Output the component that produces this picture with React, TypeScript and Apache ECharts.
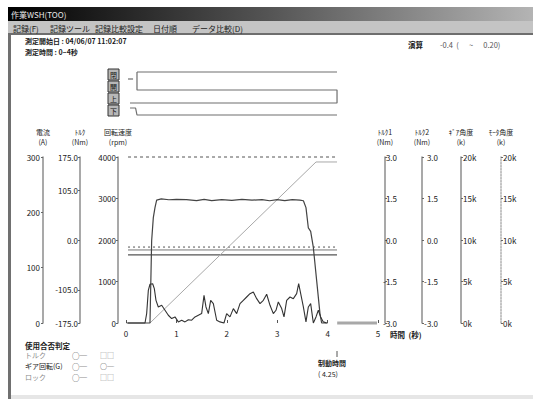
import React, { useEffect, useRef } from "react";
import * as echarts from "echarts";

const FONT = "'Noto Sans CJK JP', 'Noto Sans', sans-serif";

// Time axis (seconds)
const timeTicks = [0, 1, 2, 3, 4, 5];

// Rotational speed (rpm) over time
const speedTrace: [number, number][] = [
  [0.04, 0], [0.476, 0], [0.509, 1980], [0.542, 2540], [0.575, 2780], [0.608, 2960],
  [0.7, 2990], [0.85, 2970], [1.0, 2980], [1.2, 2975], [1.4, 2950], [1.55, 2980],
  [1.7, 2950], [1.9, 2975], [2.1, 2955], [2.3, 2980], [2.5, 2960], [2.7, 2975],
  [2.85, 2945], [3.0, 2975], [3.15, 2950], [3.3, 2975], [3.45, 2960], [3.52, 2945],
  [3.571, 2780], [3.618, 2290], [3.664, 2210], [3.717, 1820], [3.783, 1020],
  [3.849, 220], [3.882, 0], [4.0, 0],
];

// Motor current (A) over time
const currentTrace: [number, number][] = [
  [0.013, 0], [0.377, 0], [0.41, 17], [0.443, 59], [0.476, 70], [0.529, 71], [0.562, 62],
  [0.595, 41], [0.641, 29], [0.708, 32], [0.774, 23], [0.84, 14], [0.906, 8], [0.972, 11],
  [1.038, 2], [1.105, 5], [1.171, 2], [1.237, 6], [1.303, 5], [1.369, 11], [1.435, 14],
  [1.501, 17], [1.548, 50], [1.587, 29], [1.634, 17], [1.68, 41], [1.733, 35], [1.799, 5],
  [1.865, 2], [1.944, 0], [1.997, 17], [2.063, 11], [2.13, 26], [2.196, 17], [2.262, 35],
  [2.328, 41], [2.394, 47], [2.46, 53], [2.526, 56], [2.593, 44], [2.659, 35], [2.725, 41],
  [2.791, 52], [2.857, 32], [2.923, 17], [2.976, 23], [3.022, 38], [3.089, 26], [3.135, 11],
  [3.188, 41], [3.254, 47], [3.32, 44], [3.386, 53], [3.426, 71], [3.466, 53], [3.519, 29],
  [3.571, 2], [3.618, 29], [3.664, 35], [3.717, 0], [3.77, 11], [3.816, 23], [3.862, 11],
  [3.915, 2], [3.982, 0],
];

// Cumulative rotation (k) over time
const angleTrace: [number, number][] = [[0.476, 0], [3.77, 19.4], [4.187, 19.4]];

// Reference levels on the speed scale
const speedCeiling = 4000;
const speedLimitLevels = [1830, 1760, 1640];
const recordSpan = [0.04, 4.187];
const idleSpan = [4.19, 4.98];

// Axis tick values
const currentTicks = [0, 100, 200, 300];
const torqueTicks = [-175, -105, 0, 105, 175];
const speedTicks = [0, 1000, 2000, 3000, 4000];
const forceTicks = [-3, -1.5, 0, 1.5, 3];
const countTicks = [0, 5, 10, 15, 20];

// Relay / valve sequence (time, level)
const relayNames = ["閉", "開", "上", "下"];
const relayPaths: [number, number][][] = [
  [[0.04, 36], [0.14, 36]],
  [[0.218, 43], [4.187, 43]],
  [[0.218, 43], [0.218, 25], [4.187, 25], [4.187, 12], [0.079, 12]],
  [[0.08, 7], [0.19, 7], [0.218, 0], [4.187, 0]],
];

const menuItems = ["記録(F)", "記録ツール", "記録比較設定", "日付順", "データ比較(D)"];
const headerLines = ["測定開始日 : 04/06/07 11:02:07", "測定時間 : 0~4秒"];
const calcLabel = "演算";
const calcRange = "-0.4  (      ~      0.20)";
const judgeTitle = "使用合否判定";
const judgeRows = [
  { name: "トルク", first: "○─", second: "□□", strong: false },
  { name: "ギア回転(G)", first: "○─", second: "○─", strong: true },
  { name: "ロック", first: "○─", second: "□□", strong: false },
];
const stopTitle = "制動時間";
const stopValue = "( 4.25)";

function yAxisDef(opts: any) {
  const {
    position, offset, min, max, ticks, name, labelFmt, margin, align, lineType, lineColor,
  } = opts;
  return {
    type: "value",
    gridIndex: 0,
    position,
    offset,
    min,
    max,
    name,
    nameLocation: "end",
    nameGap: 10,
    nameTextStyle: { fontSize: 7, lineHeight: 10, color: "#222", fontFamily: FONT },
    axisLine: {
      show: true,
      onZero: false,
      lineStyle: { color: lineColor || "#8c8c8c", width: 1.5, type: lineType || "solid" },
    },
    axisTick: {
      show: true,
      length: 2,
      customValues: ticks,
      lineStyle: { color: "#666", width: 1 },
    },
    axisLabel: {
      show: true,
      customValues: ticks,
      margin,
      align,
      fontSize: 8,
      color: "#1a1a1a",
      fontFamily: FONT,
      formatter: labelFmt,
    },
    splitLine: { show: false },
  };
}

function lineSeries(data: [number, number][], yAxisIndex: number, style: any, xAxisIndex = 0) {
  return {
    type: "line",
    xAxisIndex,
    yAxisIndex,
    data,
    symbol: "none",
    silent: true,
    clip: false,
    lineStyle: style,
    z: 3,
  };
}

function text(x: number, y: number, t: string, extra: any = {}) {
  return {
    type: "text",
    x,
    y,
    silent: true,
    style: {
      text: t,
      fill: extra.fill || "#1a1a1a",
      fontSize: extra.fontSize || 8,
      fontWeight: extra.fontWeight || "normal",
      fontFamily: FONT,
      align: extra.align || "left",
      verticalAlign: "middle",
    },
    z: 10,
  };
}

export default function App() {
  const ref = useRef<HTMLDivElement>(null);

  useEffect(() => {
    if (!ref.current) return;
    const chart = echarts.init(ref.current, undefined, { renderer: "svg" });

    const graphic: any[] = [
      // window chrome
      {
        type: "rect",
        shape: { x: 8, y: 7, width: 525, height: 14 },
        style: {
          fill: new echarts.graphic.LinearGradient(0, 0, 1, 0, [
            { offset: 0, color: "#000000" },
            { offset: 0.5, color: "#555555" },
            { offset: 1, color: "#b4b4b4" },
          ]),
        },
        silent: true,
      },
      text(11, 14, "作業WSH(TOO)", { fill: "#e8e8e8", fontSize: 8 }),
      { type: "rect", shape: { x: 8, y: 21, width: 525, height: 13 }, style: { fill: "#c4c4c4" }, silent: true },
      { type: "rect", shape: { x: 8, y: 33, width: 525, height: 2 }, style: { fill: "#6e6e6e" }, silent: true },
      { type: "rect", shape: { x: 8, y: 35, width: 3, height: 364 }, style: { fill: "#707070" }, silent: true },
      { type: "rect", shape: { x: 11, y: 395, width: 522, height: 4 }, style: { fill: "#e6e6e6" }, silent: true },
    ];

    const menuX = [13, 50, 95, 153, 192];
    menuItems.forEach((m, i) => graphic.push(text(menuX[i], 28, m, { fontSize: 8, fill: "#202020" })));

    graphic.push(text(25, 41, headerLines[0], { fontSize: 7, fontWeight: "bold" }));
    graphic.push(text(25, 52, headerLines[1], { fontSize: 7, fontWeight: "bold" }));
    graphic.push(text(408, 44, calcLabel, { fontSize: 7.5, fontWeight: "bold" }));
    graphic.push(text(440, 44, calcRange, { fontSize: 7.5, fill: "#555" }));

    // relay labels
    const boxY = [69, 81, 93, 105];
    relayNames.forEach((n, i) => {
      graphic.push({
        type: "rect",
        shape: { x: 108, y: boxY[i], width: 11, height: 11 },
        style: { fill: "#b8b8b8", stroke: "#333", lineWidth: 1 },
        silent: true,
      });
      graphic.push(text(113.5, boxY[i] + 5.5, n, { fontSize: 7, align: "center", fill: "#111" }));
    });

    // x axis title
    graphic.push(text(390, 334, "時間  (秒)", { fontSize: 7.5, fontWeight: "bold" }));

    // judgement block
    graphic.push(text(25, 345, judgeTitle, { fontSize: 7.5, fontWeight: "bold" }));
    const rowY = [355, 366, 377];
    judgeRows.forEach((r, i) => {
      const c = r.strong ? "#1a1a1a" : "#8a8a8a";
      graphic.push(text(25, rowY[i], r.name, { fontSize: 7, fill: c }));
      graphic.push(text(72, rowY[i], r.first, { fontSize: 7.5, fill: "#333" }));
      graphic.push(text(100, rowY[i], r.second, { fontSize: 7, fill: r.strong ? "#333" : "#8a8a8a" }));
    });

    // stop time readout
    graphic.push({
      type: "line",
      shape: { x1: 337, y1: 351, x2: 337, y2: 357 },
      style: { stroke: "#555", lineWidth: 1 },
      silent: true,
    });
    graphic.push(text(318, 363, stopTitle, { fontSize: 7, fontWeight: "bold" }));
    graphic.push(text(318, 374, stopValue, { fontSize: 7 }));

    const series: any[] = [
      lineSeries(
        [[recordSpan[0], speedCeiling], [recordSpan[1], speedCeiling]],
        2,
        { color: "#555", width: 1, type: [3, 3] }
      ),
      lineSeries(
        [[recordSpan[0], speedLimitLevels[0]], [recordSpan[1], speedLimitLevels[0]]],
        2,
        { color: "#555", width: 1, type: [2, 3] }
      ),
      lineSeries(
        [[recordSpan[0], speedLimitLevels[1]], [recordSpan[1], speedLimitLevels[1]]],
        2,
        { color: "#777", width: 1 }
      ),
      lineSeries(
        [[recordSpan[0], speedLimitLevels[2]], [recordSpan[1], speedLimitLevels[2]]],
        2,
        { color: "#555", width: 1.2 }
      ),
      lineSeries(angleTrace, 5, { color: "#a8a8a8", width: 1 }),
      lineSeries(speedTrace, 2, { color: "#444", width: 1.2 }),
      lineSeries(currentTrace, 0, { color: "#333", width: 1.1 }),
      lineSeries([[idleSpan[0], 0], [idleSpan[1], 0]], 2, { color: "#a8a8a8", width: 3 }),
      ...relayPaths.map((p) => lineSeries(p, 7, { color: "#6e6e6e", width: 1.2 }, 1)),
    ];

    chart.setOption({
      animation: false,
      backgroundColor: "#ffffff",
      textStyle: { fontFamily: FONT },
      grid: [
        { left: 126, top: 157, width: 252, height: 166, containLabel: false, outerBoundsMode: "none" },
        { left: 126, top: 72, width: 252, height: 43, containLabel: false, outerBoundsMode: "none" },
      ],
      xAxis: [
        {
          type: "value",
          gridIndex: 0,
          min: timeTicks[0],
          max: timeTicks[timeTicks.length - 1],
          interval: 1,
          axisLine: { show: false },
          axisTick: { show: true, inside: true, length: 3, lineStyle: { color: "#555" } },
          axisLabel: { fontSize: 8, color: "#1a1a1a", margin: 6, fontFamily: FONT },
          splitLine: { show: false },
        },
        { type: "value", gridIndex: 1, min: 0, max: 5, show: false },
      ],
      yAxis: [
        yAxisDef({
          position: "left", offset: 83, min: 0, max: 300, ticks: currentTicks,
          name: "電流\n(A)", margin: 3, labelFmt: (v: number) => String(v),
        }),
        yAxisDef({
          position: "left", offset: 46, min: -175, max: 175, ticks: torqueTicks,
          name: "ﾄﾙｸ\n(Nm)", margin: 2, labelFmt: (v: number) => v.toFixed(1),
        }),
        yAxisDef({
          position: "left", offset: 8, min: 0, max: 4000, ticks: speedTicks,
          name: "回転速度\n(rpm)", margin: 2, labelFmt: (v: number) => String(v),
        }),
        yAxisDef({
          position: "right", offset: 7, min: -3, max: 3, ticks: forceTicks,
          name: "ﾄﾙｸ1\n(Nm)", margin: 12, align: "right", labelFmt: (v: number) => v.toFixed(1),
        }),
        yAxisDef({
          position: "right", offset: 44, min: -3, max: 3, ticks: forceTicks,
          name: "ﾄﾙｸ2\n(Nm)", margin: 16, align: "right", labelFmt: (v: number) => v.toFixed(1),
        }),
        yAxisDef({
          position: "right", offset: 83, min: 0, max: 20, ticks: countTicks,
          name: "ｷﾞｱ角度\n(k)", margin: 2, labelFmt: (v: number) => v + "k",
        }),
        yAxisDef({
          position: "right", offset: 123, min: 0, max: 20, ticks: countTicks,
          name: "ﾓｰﾀ角度\n(k)", margin: 2, lineType: "dotted", lineColor: "#b0b0b0",
          labelFmt: (v: number) => v + "k",
        }),
        { type: "value", gridIndex: 1, min: 0, max: 43, show: false },
      ],
      graphic,
      series,
    });

    return () => chart.dispose();
  }, []);

  return (
    <div
      ref={ref}
      style={{ position: "fixed", left: 0, top: 0, width: 533, height: 399, background: "#fff" }}
    />
  );
}
